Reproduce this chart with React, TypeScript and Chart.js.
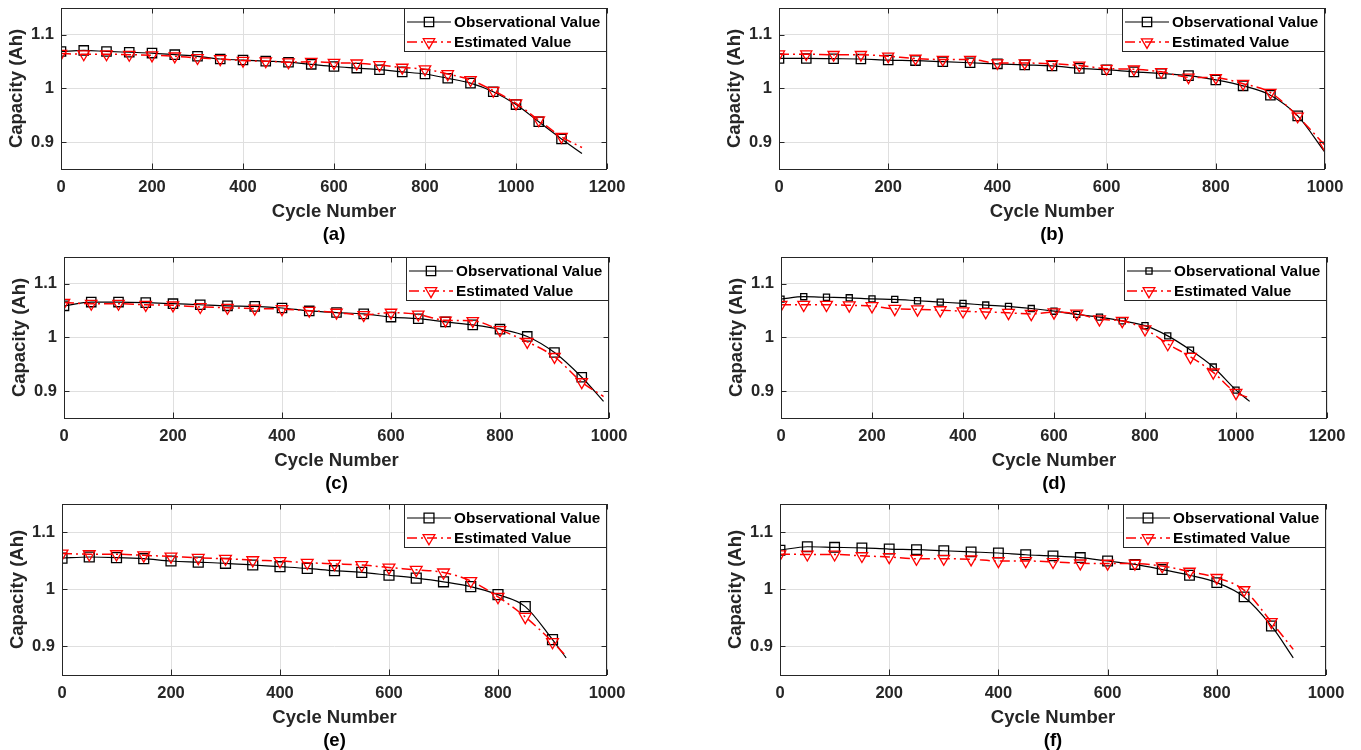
import React, { useEffect, useRef } from "react";
import { Chart, registerables } from "chart.js";

Chart.register(...registerables);

const FONT_FAMILY = "'Liberation Sans', Arial, Helvetica, sans-serif";
const AXIS_COLOR = "#262626";
const GRID_COLOR = "#dfdfdf";
const OBS_COLOR = "#000000";
const EST_COLOR = "#ff0000";

const SERIES_NAMES = ["Observational Value", "Estimated Value"];
const X_TITLE = "Cycle Number";
const Y_TITLE = "Capacity (Ah)";
const PANEL_LABELS = ["(a)", "(b)", "(c)", "(d)", "(e)", "(f)"];
const Y_MIN = 0.85;
const Y_MAX = 1.15;
const Y_TICKS = [0.9, 1, 1.1];
const X_TICKS_1200 = [0, 200, 400, 600, 800, 1000, 1200];
const X_TICKS_1000 = [0, 200, 400, 600, 800, 1000];

// (a)
const OBS_CYCLES_A = [0, 50, 100, 150, 200, 250, 300, 350, 400, 450, 500, 550, 600, 650, 700, 750, 800, 850, 900, 950, 1000, 1050, 1100, 1145];
const OBS_A = [1.069, 1.071, 1.069, 1.0675, 1.066, 1.063, 1.06, 1.055, 1.053, 1.051, 1.049, 1.045, 1.041, 1.038, 1.035, 1.031, 1.027, 1.019, 1.01, 0.994, 0.97, 0.938, 0.906, 0.879];
const EST_CYCLES_A = [0, 50, 100, 150, 200, 250, 300, 350, 400, 450, 500, 550, 600, 650, 700, 750, 800, 850, 900, 950, 1000, 1050, 1100, 1145];
const EST_A = [1.065, 1.064, 1.064, 1.063, 1.062, 1.06, 1.057, 1.055, 1.052, 1.051, 1.049, 1.05, 1.048, 1.047, 1.044, 1.039, 1.036, 1.027, 1.016, 0.996, 0.9725, 0.941, 0.91, 0.89];

// (b)
const OBS_CYCLES_B = [0, 50, 100, 150, 200, 250, 300, 350, 400, 450, 500, 550, 600, 650, 700, 750, 800, 850, 900, 950, 1000];
const OBS_B = [1.056, 1.056, 1.0555, 1.055, 1.053, 1.052, 1.05, 1.048, 1.046, 1.044, 1.042, 1.0375, 1.035, 1.031, 1.028, 1.024, 1.016, 1.005, 0.9875, 0.949, 0.881];
const EST_CYCLES_B = [0, 50, 100, 150, 200, 250, 300, 350, 400, 450, 500, 550, 600, 650, 700, 750, 800, 850, 900, 950, 1000];
const EST_B = [1.064, 1.064, 1.063, 1.063, 1.06, 1.056, 1.054, 1.054, 1.0475, 1.0475, 1.046, 1.043, 1.037, 1.036, 1.031, 1.021, 1.02, 1.009, 0.9925, 0.948, 0.894];

// (c)
const OBS_CYCLES_C = [0, 50, 100, 150, 200, 250, 300, 350, 400, 450, 500, 550, 600, 650, 700, 750, 800, 850, 900, 950, 990];
const OBS_C = [1.059, 1.066, 1.066, 1.065, 1.063, 1.061, 1.059, 1.058, 1.055, 1.0495, 1.0465, 1.044, 1.038, 1.035, 1.029, 1.0235, 1.0155, 1.002, 0.972, 0.926, 0.881];
const EST_CYCLES_C = [0, 50, 100, 150, 200, 250, 300, 350, 400, 450, 500, 550, 600, 650, 700, 750, 800, 850, 900, 950, 990];
const EST_C = [1.065, 1.063, 1.063, 1.061, 1.06, 1.057, 1.0555, 1.054, 1.053, 1.05, 1.0465, 1.042, 1.0465, 1.043, 1.032, 1.031, 1.014, 0.992, 0.964, 0.917, 0.89];

// (d)
const OBS_CYCLES_D = [0, 50, 100, 150, 200, 250, 300, 350, 400, 450, 500, 550, 600, 650, 700, 750, 800, 850, 900, 950, 1000, 1030];
const OBS_D = [1.0716, 1.076, 1.075, 1.074, 1.072, 1.071, 1.0685, 1.066, 1.0635, 1.0605, 1.058, 1.054, 1.049, 1.043, 1.038, 1.031, 1.022, 1.003, 0.9765, 0.945, 0.902, 0.881];
const EST_CYCLES_D = [0, 50, 100, 150, 200, 250, 300, 350, 400, 450, 500, 550, 600, 650, 700, 750, 800, 850, 900, 950, 1000, 1025];
const EST_D = [1.061, 1.061, 1.061, 1.06, 1.0585, 1.0535, 1.0525, 1.051, 1.049, 1.0475, 1.046, 1.044, 1.047, 1.0445, 1.034, 1.031, 1.0155, 0.988, 0.964, 0.935, 0.897, 0.889];

// (e)
const OBS_CYCLES_E = [0, 50, 100, 150, 200, 250, 300, 350, 400, 450, 500, 550, 600, 650, 700, 750, 800, 850, 900, 925];
const OBS_E = [1.055, 1.057, 1.056, 1.054, 1.05, 1.048, 1.046, 1.043, 1.04, 1.037, 1.033, 1.03, 1.025, 1.02, 1.0135, 1.005, 0.991, 0.97, 0.912, 0.88];
const EST_CYCLES_E = [0, 50, 100, 150, 200, 250, 300, 350, 400, 450, 500, 550, 600, 650, 700, 750, 800, 850, 900, 925];
const EST_E = [1.063, 1.062, 1.062, 1.06, 1.058, 1.0555, 1.054, 1.0515, 1.05, 1.047, 1.045, 1.043, 1.0385, 1.0345, 1.03, 1.015, 0.987, 0.952, 0.908, 0.883];

// (f)
const OBS_CYCLES_F = [0, 50, 100, 150, 200, 250, 300, 350, 400, 450, 500, 550, 600, 650, 700, 750, 800, 850, 900, 940];
const OBS_F = [1.069, 1.075, 1.074, 1.073, 1.071, 1.07, 1.068, 1.066, 1.064, 1.061, 1.059, 1.056, 1.05, 1.044, 1.035, 1.025, 1.012, 0.987, 0.936, 0.88];
const EST_CYCLES_F = [0, 50, 100, 150, 200, 250, 300, 350, 400, 450, 500, 550, 600, 650, 700, 750, 800, 850, 900, 940];
const EST_F = [1.062, 1.0615, 1.0615, 1.059, 1.057, 1.054, 1.054, 1.053, 1.05, 1.05, 1.0485, 1.046, 1.0455, 1.0455, 1.041, 1.0315, 1.0205, 0.999, 0.943, 0.895];

type PanelData = {
  label: string;
  obsCycles: number[];
  obs: number[];
  estCycles: number[];
  est: number[];
  obsMarks: number;
  estMarks: number;
  xMax: number;
  xTicks: number[];
};

const PANELS: PanelData[] = [
  { label: PANEL_LABELS[0], obsCycles: OBS_CYCLES_A, obs: OBS_A, estCycles: EST_CYCLES_A, est: EST_A, obsMarks: 23, estMarks: 23, xMax: 1200, xTicks: X_TICKS_1200 },
  { label: PANEL_LABELS[1], obsCycles: OBS_CYCLES_B, obs: OBS_B, estCycles: EST_CYCLES_B, est: EST_B, obsMarks: 20, estMarks: 21, xMax: 1000, xTicks: X_TICKS_1000 },
  { label: PANEL_LABELS[2], obsCycles: OBS_CYCLES_C, obs: OBS_C, estCycles: EST_CYCLES_C, est: EST_C, obsMarks: 20, estMarks: 20, xMax: 1000, xTicks: X_TICKS_1000 },
  { label: PANEL_LABELS[3], obsCycles: OBS_CYCLES_D, obs: OBS_D, estCycles: EST_CYCLES_D, est: EST_D, obsMarks: 21, estMarks: 21, xMax: 1200, xTicks: X_TICKS_1200 },
  { label: PANEL_LABELS[4], obsCycles: OBS_CYCLES_E, obs: OBS_E, estCycles: EST_CYCLES_E, est: EST_E, obsMarks: 19, estMarks: 19, xMax: 1000, xTicks: X_TICKS_1000 },
  { label: PANEL_LABELS[5], obsCycles: OBS_CYCLES_F, obs: OBS_F, estCycles: EST_CYCLES_F, est: EST_F, obsMarks: 19, estMarks: 19, xMax: 1000, xTicks: X_TICKS_1000 },
];

// layout (page pixel coordinates of each plot area) and marker sizes
type PanelLayout = { l: number; t: number; r: number; b: number; sqR: number; triR: number };
const LAYOUTS: PanelLayout[] = [
  { l: 61, t: 8, r: 607, b: 169, sqR: 6.6, triR: 6.6 },
  { l: 779, t: 8, r: 1325, b: 169, sqR: 6.6, triR: 6.4 },
  { l: 64, t: 257, r: 609, b: 418, sqR: 6.6, triR: 6.6 },
  { l: 781, t: 257, r: 1327, b: 418, sqR: 4.3, triR: 6.8 },
  { l: 62, t: 504, r: 607, b: 675, sqR: 7.0, triR: 6.8 },
  { l: 780, t: 504, r: 1326, b: 675, sqR: 6.8, triR: 6.6 },
];

const Y_W = 61;
const PAD_T = 8;
const PAD_R = 30;
const X_H = 80;

function pts(xs: number[], ys: number[]) {
  return xs.map((x, i) => ({ x, y: ys[i] }));
}

function drawMarker(ctx: CanvasRenderingContext2D, style: string, x: number, y: number, r: number) {
  ctx.beginPath();
  if (style === "rect") {
    const s = Math.SQRT1_2 * r;
    ctx.rect(x - s, y - s, 2 * s, 2 * s);
  } else {
    const w = r * Math.sin(Math.PI / 3);
    ctx.moveTo(x, y + r);
    ctx.lineTo(x - w, y - r / 2);
    ctx.lineTo(x + w, y - r / 2);
    ctx.closePath();
  }
  ctx.stroke();
}

function PanelChart({ data, layout }: { data: PanelData; layout: PanelLayout }) {
  const ref = useRef<HTMLCanvasElement | null>(null);
  const cLeft = layout.l - Y_W;
  const cTop = layout.t - PAD_T;
  const cW = layout.r - layout.l + Y_W + PAD_R;
  const cH = layout.b - layout.t + PAD_T + X_H;

  useEffect(() => {
    if (!ref.current) return;
    const tickFont = { family: FONT_FAMILY, size: 16.5, weight: "bold" as const };
    const titleFont = { family: FONT_FAMILY, size: 18.5, weight: "bold" as const };

    const decor = {
      id: "matlabDecor",
      afterDatasetsDraw(chart: any) {
        const ctx: CanvasRenderingContext2D = chart.ctx;
        const ca = chart.chartArea;
        const xs = chart.scales.x;
        const ys = chart.scales.y;
        ctx.save();
        ctx.strokeStyle = AXIS_COLOR;
        ctx.lineWidth = 1;
        ctx.setLineDash([]);
        ctx.beginPath();
        data.xTicks.forEach((v) => {
          const px = Math.round(xs.getPixelForValue(v)) + 0.5;
          ctx.moveTo(px, ca.bottom);
          ctx.lineTo(px, ca.bottom - 5.5);
          ctx.moveTo(px, ca.top);
          ctx.lineTo(px, ca.top + 5.5);
        });
        Y_TICKS.forEach((v) => {
          const py = Math.round(ys.getPixelForValue(v)) + 0.5;
          ctx.moveTo(ca.left, py);
          ctx.lineTo(ca.left + 5.5, py);
          ctx.moveTo(ca.right, py);
          ctx.lineTo(ca.right - 5.5, py);
        });
        ctx.stroke();
        ctx.strokeRect(Math.round(ca.left) + 0.5, Math.round(ca.top) + 0.5, Math.round(ca.right - ca.left) - 1, Math.round(ca.bottom - ca.top));

        // legend
        ctx.font = `bold 15.3px ${FONT_FAMILY}`;
        const textW = Math.max(...SERIES_NAMES.map((n) => ctx.measureText(n).width));
        const boxW = Math.round(50 + textW + 7);
        const boxH = 44;
        const bx = Math.round(ca.right) - boxW;
        const by = Math.round(ca.top);
        ctx.fillStyle = "#ffffff";
        ctx.fillRect(bx, by, boxW, boxH);
        ctx.strokeStyle = AXIS_COLOR;
        ctx.lineWidth = 1;
        ctx.strokeRect(bx + 0.5, by + 0.5, boxW - 1, boxH - 1);
        chart.data.datasets.forEach((ds: any, i: number) => {
          const y = by + 14 + i * 20;
          ctx.strokeStyle = ds.borderColor;
          ctx.lineWidth = ds.borderWidth;
          ctx.setLineDash(ds.borderDash || []);
          ctx.beginPath();
          ctx.moveTo(bx + 3, y);
          ctx.lineTo(bx + 47, y);
          ctx.stroke();
          ctx.setLineDash([]);
          ctx.lineWidth = 1.3;
          drawMarker(ctx, ds.pointStyle, bx + 25, y, ds.pointStyle === "rect" ? layout.sqR : layout.triR);
          ctx.fillStyle = "#000000";
          ctx.textAlign = "left";
          ctx.textBaseline = "middle";
          ctx.fillText(ds.label, bx + 50, y + 1);
        });

        // panel label
        ctx.font = `bold 18.5px ${FONT_FAMILY}`;
        ctx.fillStyle = "#000000";
        ctx.textAlign = "center";
        ctx.textBaseline = "middle";
        ctx.fillText(data.label, (ca.left + ca.right) / 2, ca.bottom + 66);
        ctx.restore();
      },
    };

    const chart = new Chart(ref.current, {
      type: "line",
      data: {
        datasets: [
          {
            label: SERIES_NAMES[0],
            data: pts(data.obsCycles, data.obs),
            borderColor: OBS_COLOR,
            borderWidth: 1.2,
            cubicInterpolationMode: "monotone",
            pointStyle: "rect",
            pointRadius: (c: any) => (c.dataIndex < data.obsMarks ? layout.sqR : 0),
            pointBorderColor: OBS_COLOR,
            pointBackgroundColor: "rgba(0,0,0,0)",
            pointBorderWidth: 1.3,
            fill: false,
            order: 2,
          } as any,
          {
            label: SERIES_NAMES[1],
            data: pts(data.estCycles, data.est),
            borderColor: EST_COLOR,
            borderWidth: 1.5,
            borderDash: [10, 4, 2, 4],
            cubicInterpolationMode: "monotone",
            pointStyle: "triangle",
            pointRotation: 180,
            pointRadius: (c: any) => (c.dataIndex < data.estMarks ? layout.triR : 0),
            pointBorderColor: EST_COLOR,
            pointBackgroundColor: "rgba(0,0,0,0)",
            pointBorderWidth: 1.3,
            fill: false,
            order: 1,
          } as any,
        ],
      },
      options: {
        animation: false,
        responsive: false,
        maintainAspectRatio: false,
        devicePixelRatio: 1,
        events: [],
        layout: { padding: { left: 0, top: PAD_T, right: PAD_R, bottom: 0 }, autoPadding: false } as any,
        plugins: {
          legend: { display: false },
          tooltip: { enabled: false },
          title: { display: false },
        },
        scales: {
          x: {
            type: "linear",
            min: 0,
            max: data.xMax,
            afterBuildTicks: (s: any) => {
              s.ticks = data.xTicks.map((v) => ({ value: v }));
            },
            afterFit: (s: any) => {
              s.height = X_H;
              s.paddingLeft = 0;
              s.paddingRight = 0;
            },
            grid: { color: GRID_COLOR, lineWidth: 1, drawTicks: false },
            border: { display: false },
            ticks: {
              font: tickFont,
              color: AXIS_COLOR,
              padding: 8.5,
              maxRotation: 0,
              autoSkip: false,
              callback: (v: any) => String(v),
            },
            title: {
              display: true,
              text: X_TITLE,
              font: titleFont,
              color: AXIS_COLOR,
              padding: { top: 0, bottom: 25.6 },
            },
          },
          y: {
            type: "linear",
            min: Y_MIN,
            max: Y_MAX,
            afterBuildTicks: (s: any) => {
              s.ticks = Y_TICKS.map((v) => ({ value: v }));
            },
            afterFit: (s: any) => {
              s.width = Y_W;
              s.paddingTop = 0;
              s.paddingBottom = 0;
            },
            grid: { color: GRID_COLOR, lineWidth: 1, drawTicks: false },
            border: { display: false },
            ticks: {
              font: tickFont,
              color: AXIS_COLOR,
              padding: 7,
              autoSkip: false,
              callback: (v: any) => String(v),
            },
            title: {
              display: true,
              text: Y_TITLE,
              font: titleFont,
              color: AXIS_COLOR,
              padding: { top: 6, bottom: 0 },
            },
          },
        },
      } as any,
      plugins: [decor],
    });
    return () => chart.destroy();
  }, [data, layout]);

  return (
    <canvas
      ref={ref}
      width={cW}
      height={cH}
      style={{ position: "absolute", left: cLeft, top: cTop, width: cW, height: cH }}
    />
  );
}

export default function App() {
  return (
    <div
      style={{
        position: "absolute",
        left: 0,
        top: 0,
        width: 1361,
        height: 750,
        overflow: "hidden",
        background: "#ffffff",
      }}
    >
      {PANELS.map((p, i) => (
        <PanelChart key={p.label} data={p} layout={LAYOUTS[i]} />
      ))}
    </div>
  );
}
